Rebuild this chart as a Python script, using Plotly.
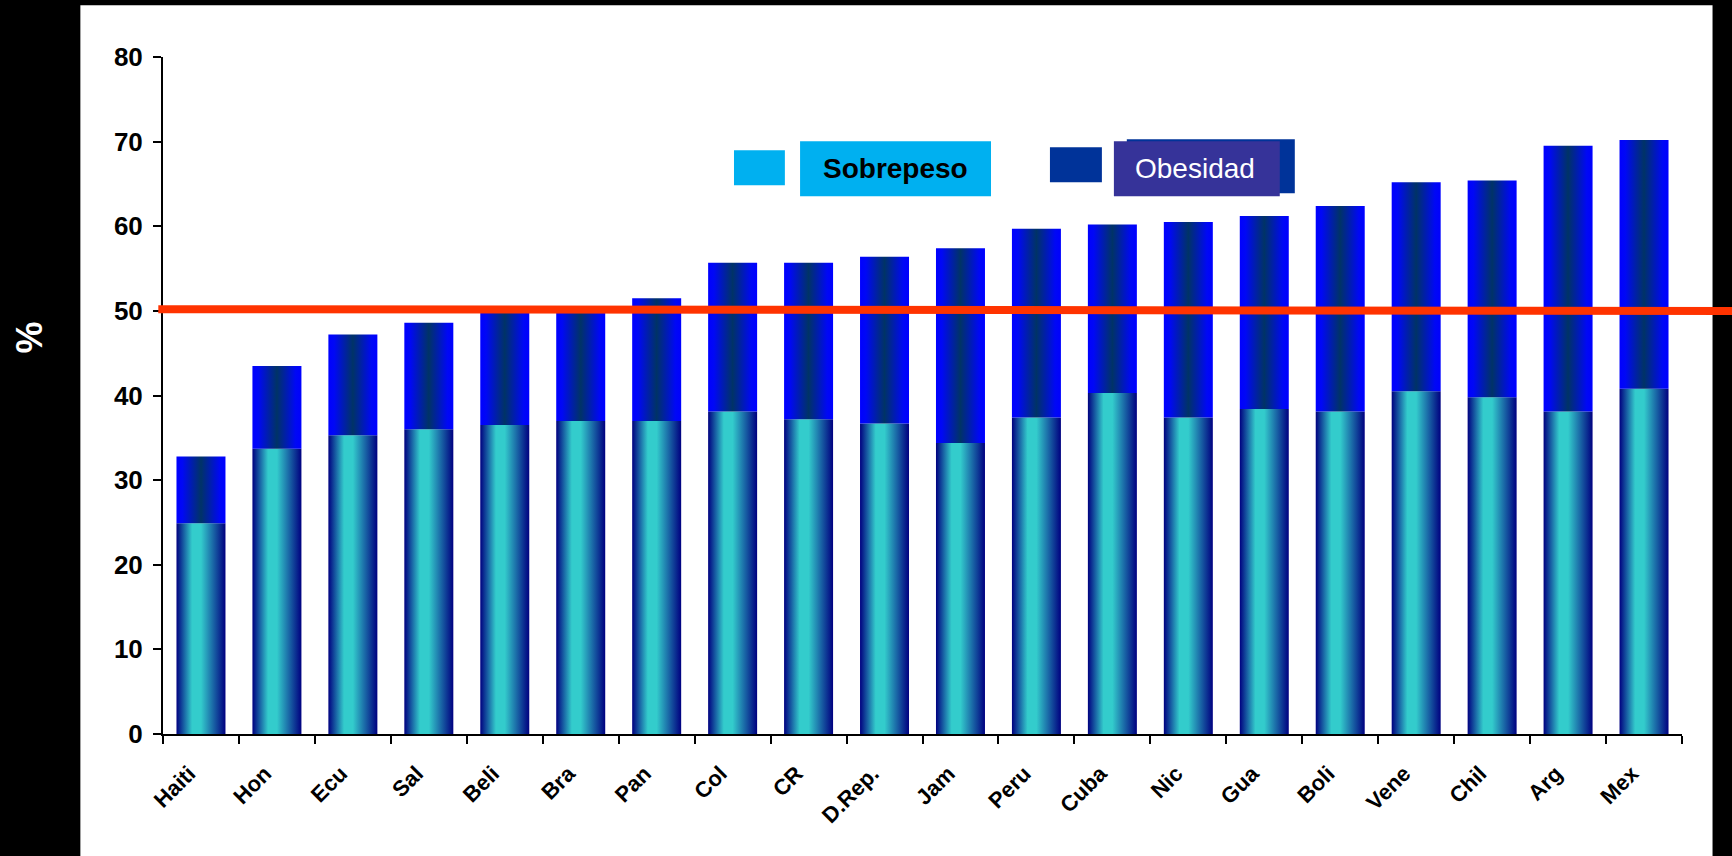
import plotly.graph_objects as go

# Countries ordered by combined overweight + obesity prevalence (%)
countries = ["Haiti", "Hon", "Ecu", "Sal", "Beli", "Bra", "Pan", "Col", "CR", "D.Rep.",
             "Jam", "Peru", "Cuba", "Nic", "Gua", "Boli", "Vene", "Chil", "Arg", "Mex"]
sobrepeso = [24.9, 33.7, 35.3, 36.0, 36.5, 37.0, 37.0, 38.1, 37.2, 36.7,
             34.4, 37.4, 40.3, 37.4, 38.4, 38.1, 40.5, 39.8, 38.1, 40.8]
obesidad = [7.9, 9.8, 11.9, 12.6, 13.3, 12.8, 14.5, 17.6, 18.5, 19.7,
            23.0, 22.3, 19.9, 23.1, 22.8, 24.3, 24.7, 25.6, 31.4, 29.4]
y_ticks = [0, 10, 20, 30, 40, 50, 60, 70, 80]
umbral = 50

FONT = "Liberation Sans, Arial, sans-serif"
HALF_W = 0.3225  # half of the bar width, in category units

# horizontal shading across each bar
grad_sobrepeso = [[0.0, "#000080"], [0.32, "#33CCCC"], [0.5, "#33CCCC"], [1.0, "#000080"]]
grad_obesidad = [[0.0, "#0000FF"], [0.12, "#0008F5"], [0.5, "#003366"],
                 [0.88, "#0008F5"], [1.0, "#0000FF"]]

fig = go.Figure()


def add_bar(i, base, value, scale, name):
    x0, x1 = i - HALF_W, i + HALF_W
    top = base + value
    fig.add_trace(go.Scatter(
        x=[x0, x1, x1, x0, x0],
        y=[base, base, top, top, base],
        mode="lines",
        line=dict(width=0),
        fill="toself",
        fillgradient=dict(type="horizontal", colorscale=scale, start=x0, stop=x1),
        name=name,
        hoverinfo="skip",
        showlegend=False,
    ))


for i, (s, o) in enumerate(zip(sobrepeso, obesidad)):
    add_bar(i, 0, s, grad_sobrepeso, "Sobrepeso")
    add_bar(i, s, o, grad_obesidad, "Obesidad")

shapes = [
    # white page panel over the black background
    dict(type="rect", xref="paper", yref="paper", x0=-0.0544, x1=1.0201, y0=-0.1806, y1=1.0764,
         fillcolor="white", line=dict(width=0), layer="below"),
    # 50 % reference line
    dict(type="line", xref="paper", yref="y", x0=-0.0031, x1=1.033, y0=umbral + 0.2, y1=umbral,
         line=dict(color="#FF3300", width=8)),
    # legend swatches and labels
    dict(type="rect", xref="paper", yref="paper", x0=0.3759, x1=0.4094, y0=0.8105, y1=0.8622,
         fillcolor="#00B0F0", line=dict(width=0)),
    dict(type="rect", xref="paper", yref="paper", x0=0.4194, x1=0.5451, y0=0.7942, y1=0.8755,
         fillcolor="#00B0F0", line=dict(width=0)),
    dict(type="rect", xref="paper", yref="paper", x0=0.5839, x1=0.6181, y0=0.8149, y1=0.8666,
         fillcolor="#003399", line=dict(width=0)),
    dict(type="rect", xref="paper", yref="paper", x0=0.6345, x1=0.7451, y0=0.7986, y1=0.8784,
         fillcolor="#003399", line=dict(width=0)),
    dict(type="rect", xref="paper", yref="paper", x0=0.6260, x1=0.7352, y0=0.7942, y1=0.8755,
         fillcolor="#363399", line=dict(width=0)),
]

annotations = [
    dict(text="Sobrepeso", xref="paper", yref="paper", x=0.4822, y=0.8349,
         xanchor="center", yanchor="middle",
         showarrow=False, font=dict(family=FONT, size=28, color="black", weight="bold")),
    dict(text="Obesidad", xref="paper", yref="paper", x=0.6796, y=0.8349,
         xanchor="center", yanchor="middle",
         showarrow=False, font=dict(family=FONT, size=28, color="white")),
    dict(text="%", xref="paper", yref="paper", x=-0.088, y=0.586, textangle=-90,
         xanchor="center", yanchor="middle",
         showarrow=False, font=dict(family=FONT, size=36, color="white", weight="bold")),
]

fig.update_layout(
    width=1732, height=856,
    margin=dict(l=163, r=50, t=57, b=122),
    paper_bgcolor="black",
    plot_bgcolor="white",
    shapes=shapes,
    annotations=annotations,
    showlegend=False,
    xaxis=dict(
        range=[-0.5, len(countries) - 0.5],
        tickvals=list(range(len(countries))),
        ticktext=countries,
        ticks="",
        tickangle=-45,
        ticklabelstandoff=16,
        ticklabelshift=-12,
        tickfont=dict(family=FONT, size=22, color="black", weight="bold"),
        minor=dict(tickmode="linear", tick0=-0.5, dtick=1, ticks="outside",
                   ticklen=8, tickwidth=2, tickcolor="black"),
        showline=True, linecolor="black", linewidth=2,
        showgrid=False, zeroline=False, fixedrange=True,
    ),
    yaxis=dict(
        range=[0, 80],
        tickvals=y_ticks,
        ticks="outside", ticklen=8, tickwidth=2, tickcolor="black",
        ticklabelstandoff=5,
        tickfont=dict(family=FONT, size=26, color="black", weight="bold"),
        showline=True, linecolor="black", linewidth=2,
        showgrid=False, zeroline=False, fixedrange=True,
    ),
)

fig.write_html("out.html")
